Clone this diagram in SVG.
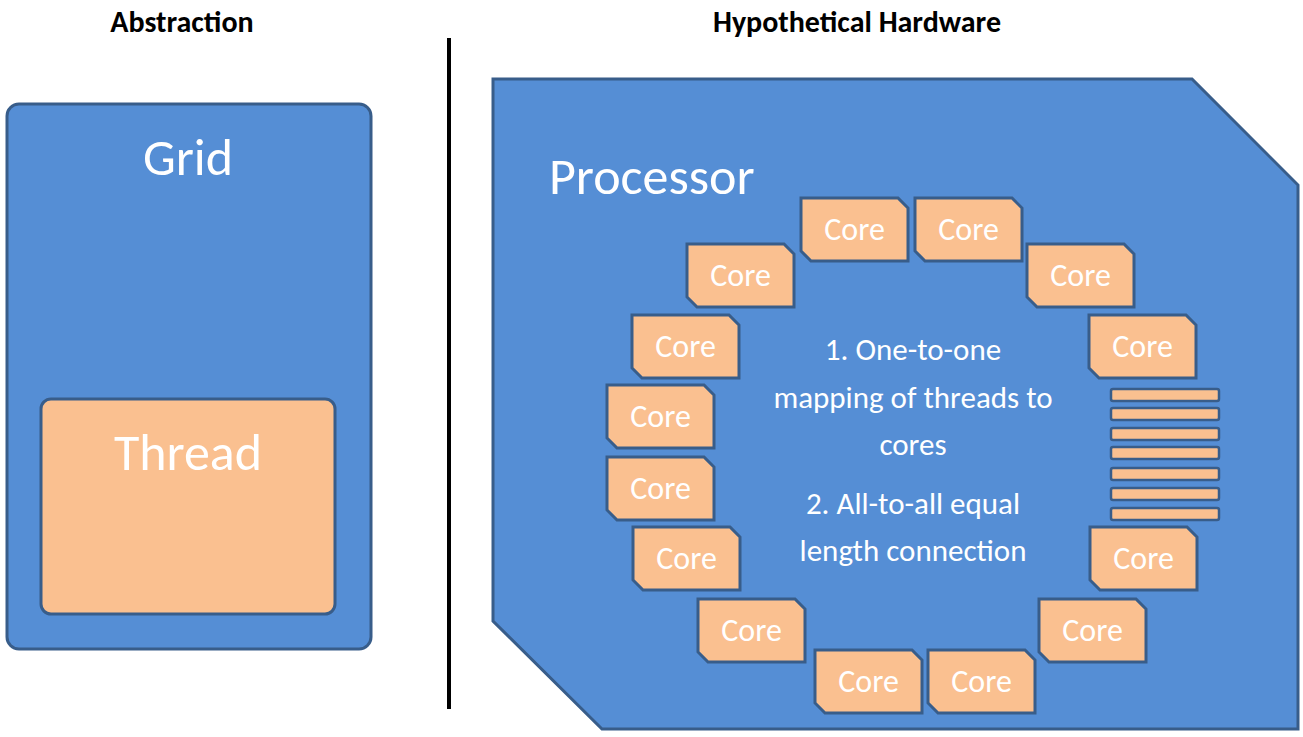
<svg xmlns="http://www.w3.org/2000/svg" width="1303" height="737" viewBox="0 0 1303 737">
<style>
.b{fill:#558ED5;stroke:#385D8A;stroke-width:3}
.o{fill:#FAC090;stroke:#385D8A;stroke-width:3}
.s{fill:#FAC090;stroke:#385D8A;stroke-width:2.5}
text{font-family:Calibri,Carlito,"Open Sans","Liberation Sans",sans-serif;fill:#fff}
.h{fill:#000;font-weight:bold;font-size:30px;text-anchor:middle}
.c{font-size:32px;text-anchor:middle}
.t{font-size:31px;text-anchor:middle}
</style>
<defs>
<g id="core"><path class="o" d="M0,0 H97 L107,10 V63 H10 L0,53 Z"/><text class="c" x="53.5" y="42">Core</text></g>
</defs>
<rect width="1303" height="737" fill="#fff"/>
<text class="h" x="182" y="32">Abstraction</text>
<text class="h" x="857" y="32">Hypothetical Hardware</text>
<line x1="449" y1="38" x2="449" y2="709" stroke="#000" stroke-width="4"/>
<g id="grid"><rect class="b" x="7" y="104" width="364" height="545" rx="12"/><text x="188" y="175" font-size="52" text-anchor="middle">Grid</text></g>
<g id="thread"><rect class="o" x="41" y="399" width="294" height="215" rx="10"/><text x="188" y="470" font-size="52" text-anchor="middle">Thread</text></g>
<g id="processor"><path class="b" d="M493,79 H1192 L1298,185 V729 H602 L493,621 Z"/><text x="549" y="194" font-size="52">Processor</text>
<text class="t" x="913" y="360">1. One-to-one</text>
<text class="t" x="913" y="408">mapping of threads to</text>
<text class="t" x="913" y="455">cores</text>
<text class="t" x="913" y="514">2. All-to-all equal</text>
<text class="t" x="913" y="561">length connection</text></g>
<g id="cores">
<use href="#core" x="801" y="198"/><use href="#core" x="915" y="198"/>
<use href="#core" x="687" y="244"/><use href="#core" x="1027" y="244"/>
<use href="#core" x="632" y="315"/><use href="#core" x="1089" y="315"/>
<use href="#core" x="607" y="385"/><use href="#core" x="607" y="457"/>
<use href="#core" x="633" y="527"/><use href="#core" x="1090" y="527"/>
<use href="#core" x="698" y="599"/><use href="#core" x="1039" y="599"/>
<use href="#core" x="815" y="650"/><use href="#core" x="928" y="650"/>
</g>
<g id="connectors">
<rect class="s" x="1111" y="389" width="108" height="12" rx="2"/>
<rect class="s" x="1111" y="408" width="108" height="12" rx="2"/>
<rect class="s" x="1111" y="428" width="108" height="12" rx="2"/>
<rect class="s" x="1111" y="447" width="108" height="12" rx="2"/>
<rect class="s" x="1111" y="468" width="108" height="12" rx="2"/>
<rect class="s" x="1111" y="488" width="108" height="12" rx="2"/>
<rect class="s" x="1111" y="508" width="108" height="12" rx="2"/>
</g>
</svg>
